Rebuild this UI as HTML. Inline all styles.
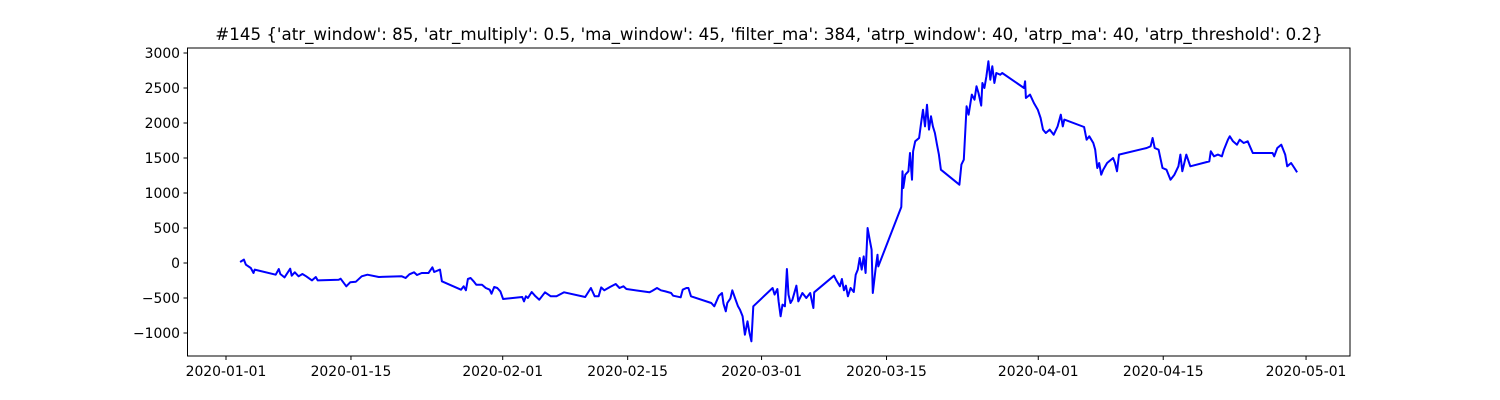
<!DOCTYPE html>
<html><head><meta charset="utf-8"><style>
html,body{margin:0;padding:0;background:#fff;}
svg{display:block;font-family:"DejaVu Sans","Liberation Sans",sans-serif;}
</style></head>
<body>
<svg id="chart" width="1500" height="400" viewBox="0 0 1500 400">
<text x="769" y="40" font-size="16.67" text-anchor="middle" fill="#000">#145 {'atr_window': 85, 'atr_multiply': 0.5, 'ma_window': 45, 'filter_ma': 384, 'atrp_window': 40, 'atrp_ma': 40, 'atrp_threshold': 0.2}</text>
<g id="yaxis"></g>
<g id="xaxis"></g>
<g id="plot"></g>
<rect x="187.5" y="48" width="1162.5" height="308" fill="none" stroke="#000" stroke-width="1"/>
</svg>
<script>
const days = [1.58,2.01,2.23,2.78,3.08,3.21,5.57,5.91,6.08,6.55,7.19,7.36,7.71,8.13,8.56,8.99,9.63,10.06,10.27,12.63,12.84,13.48,13.91,14.55,15.2,15.84,17.12,19.69,20.12,20.55,21.06,21.4,21.92,22.69,23.12,23.33,23.97,24.19,26.33,26.63,26.88,27.1,27.4,27.74,28.04,28.68,29.11,29.54,29.75,30.05,30.39,30.74,31.04,33.18,33.39,33.6,33.82,34.25,34.67,35.1,35.74,36.39,37.03,37.88,40.24,40.88,41.31,41.74,42.04,42.38,43.02,43.66,44.09,44.52,44.86,47.43,47.73,48.29,48.72,49.23,49.87,50.09,50.94,51.16,51.58,51.8,52.1,54.37,54.71,55.22,55.57,55.74,55.99,56.16,56.51,56.72,57.02,57.36,57.58,57.88,58.13,58.43,58.65,58.86,59.08,61.24,61.46,61.77,61.91,62.13,62.35,62.62,62.84,63.02,63.24,63.46,63.9,64.12,64.57,65.01,65.45,65.68,65.81,65.9,68.12,68.34,68.78,69.0,69.22,69.45,69.67,69.98,70.33,70.55,70.78,71.0,71.22,71.44,71.66,71.88,72.11,72.33,72.46,72.77,72.99,73.08,75.65,75.79,75.88,76.1,76.45,76.63,76.85,76.98,77.21,77.65,77.87,78.09,78.31,78.54,78.76,78.98,79.2,79.42,79.65,79.87,80.09,82.17,82.39,82.66,82.97,83.19,83.55,83.86,84.08,84.3,84.61,84.74,84.97,85.19,85.41,85.63,85.85,86.08,86.3,86.74,86.96,89.4,89.53,89.62,90.07,90.51,90.95,91.26,91.53,91.84,92.28,92.73,93.17,93.53,93.75,93.92,96.14,96.41,96.72,97.16,97.38,97.61,97.83,98.05,98.27,98.71,99.38,99.6,99.82,100.04,103.15,103.59,103.81,104.04,104.48,104.92,105.37,105.81,106.25,106.7,106.92,107.14,107.58,108.03,110.16,110.33,110.69,111.13,111.57,111.8,112.24,112.46,112.82,113.26,113.57,114.01,114.46,115.03,117.25,117.43,117.78,118.23,118.67,118.89,119.33,119.69,120.0];
const values = [14,48,-24,-71,-143,-95,-167,-86,-157,-205,-81,-181,-133,-190,-157,-190,-248,-200,-248,-238,-224,-333,-276,-267,-190,-167,-200,-190,-214,-162,-133,-171,-143,-143,-62,-129,-95,-262,-381,-333,-390,-228,-214,-262,-310,-310,-357,-381,-438,-343,-357,-405,-514,-486,-548,-476,-500,-414,-476,-524,-419,-476,-476,-419,-486,-357,-476,-476,-348,-390,-343,-300,-357,-333,-371,-419,-400,-357,-390,-405,-429,-467,-490,-381,-357,-357,-476,-571,-619,-467,-429,-581,-690,-571,-505,-390,-500,-619,-667,-762,-1024,-833,-1000,-1119,-619,-357,-452,-371,-548,-762,-595,-619,-86,-452,-571,-524,-324,-548,-429,-500,-429,-571,-643,-419,-181,-238,-333,-229,-390,-324,-476,-357,-414,-167,-95,71,-95,95,-143,500,333,190,-429,-95,119,-48,800,1310,1071,1262,1310,1571,1190,1595,1738,1786,2000,2190,1952,2262,1905,2095,1952,1857,1690,1548,1333,1119,1405,1476,2238,2119,2405,2333,2524,2429,2248,2571,2500,2667,2881,2619,2810,2571,2714,2690,2714,2500,2595,2357,2405,2286,2190,2071,1905,1857,1905,1833,1952,2119,1952,2048,1943,1762,1810,1714,1619,1357,1429,1262,1333,1429,1500,1429,1310,1548,1643,1667,1786,1643,1619,1357,1333,1190,1262,1381,1548,1310,1548,1381,1452,1595,1524,1548,1524,1619,1762,1810,1738,1690,1762,1714,1738,1571,1571,1524,1643,1690,1548,1381,1429,1357,1295];
const yTicks = [-1000,-500,0,500,1000,1500,2000,2500,3000];
const xTickDays = [0,14,31,45,60,74,91,105,121];
const xTickLabels = ["2020-01-01","2020-01-15","2020-02-01","2020-02-15","2020-03-01","2020-03-15","2020-04-01","2020-04-15","2020-05-01"];

const NS = "http://www.w3.org/2000/svg";
function xs(d){ return 226 + d*8.926; }
function ys(v){ return 263 - v*0.07; }

const ya = document.getElementById('yaxis');
yTicks.forEach(t=>{
  const y = ys(t);
  const l = document.createElementNS(NS,'line');
  l.setAttribute('x1',183.5); l.setAttribute('x2',187.5);
  l.setAttribute('y1',y); l.setAttribute('y2',y);
  l.setAttribute('stroke','#000');
  
  
  ya.appendChild(l);
  const tx = document.createElementNS(NS,'text');
  tx.setAttribute('x',180); tx.setAttribute('y',y+5);
  tx.setAttribute('text-anchor','end'); tx.setAttribute('font-size','13.9');
  tx.textContent = t<0 ? '\u2212'+Math.abs(t) : String(t);
  
  
  ya.appendChild(tx);
});
const xa = document.getElementById('xaxis');
xTickDays.forEach((d,i)=>{
  const x = xs(d);
  const l = document.createElementNS(NS,'line');
  l.setAttribute('x1',x); l.setAttribute('x2',x);
  l.setAttribute('y1',356); l.setAttribute('y2',360);
  l.setAttribute('stroke','#000');
  
  
  xa.appendChild(l);
  const tx = document.createElementNS(NS,'text');
  tx.setAttribute('x',x); tx.setAttribute('y',376);
  tx.setAttribute('text-anchor','middle'); tx.setAttribute('font-size','13.9');
  tx.textContent = xTickLabels[i];
  
  
  xa.appendChild(tx);
});
const pts = days.map((d,i)=>xs(d).toFixed(1)+','+ys(values[i]).toFixed(1)).join(' ');
const pl = document.createElementNS(NS,'polyline');
pl.setAttribute('points',pts);
pl.setAttribute('fill','none'); pl.setAttribute('stroke','#0000ff');
pl.setAttribute('stroke-width','2'); pl.setAttribute('stroke-linejoin','round');


document.getElementById('plot').appendChild(pl);
</script>
</body></html>
